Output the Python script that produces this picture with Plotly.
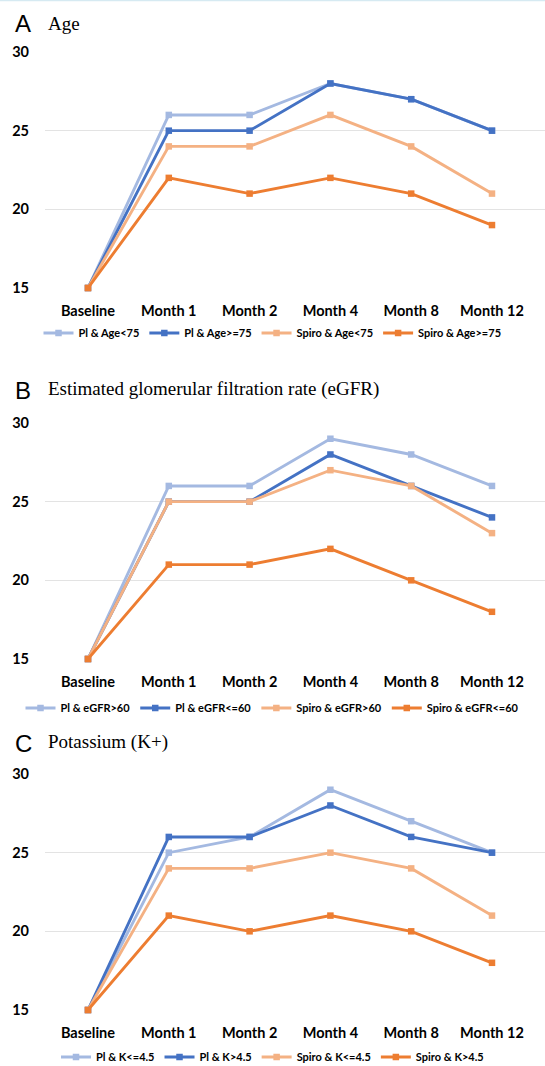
import plotly.graph_objects as go

categories = ["Baseline", "Month 1", "Month 2", "Month 4", "Month 8", "Month 12"]

# Panel A: Age
a_names = ["Pl & Age<75", "Pl & Age>=75", "Spiro & Age<75", "Spiro & Age>=75"]
a_pl_lt75 = [15, 26, 26, 28, 27, 25]
a_pl_ge75 = [15, 25, 25, 28, 27, 25]
a_sp_lt75 = [15, 24, 24, 26, 24, 21]
a_sp_ge75 = [15, 22, 21, 22, 21, 19]

# Panel B: eGFR
b_names = ["Pl & eGFR>60", "Pl & eGFR<=60", "Spiro & eGFR>60", "Spiro & eGFR<=60"]
b_pl_gt60 = [15, 26, 26, 29, 28, 26]
b_pl_le60 = [15, 25, 25, 28, 26, 24]
b_sp_gt60 = [15, 25, 25, 27, 26, 23]
b_sp_le60 = [15, 21, 21, 22, 20, 18]

# Panel C: Potassium
c_names = ["Pl & K<=4.5", "Pl & K>4.5", "Spiro & K<=4.5", "Spiro & K>4.5"]
c_pl_le45 = [15, 25, 26, 29, 27, 25]
c_pl_gt45 = [15, 26, 26, 28, 26, 25]
c_sp_le45 = [15, 24, 24, 25, 24, 21]
c_sp_gt45 = [15, 21, 20, 21, 20, 18]

panel_letters = ["A", "B", "C"]
panel_titles = ["Age", "Estimated glomerular filtration rate (eGFR)", "Potassium (K+)"]
y_ticks = [15, 20, 25, 30]

colors = ["#A4B9E1", "#4472C4", "#F4B183", "#ED7D31"]

W, H = 545, 1066
panels = [
    (a_names, [a_pl_lt75, a_pl_ge75, a_sp_lt75, a_sp_ge75]),
    (b_names, [b_pl_gt60, b_pl_le60, b_sp_gt60, b_sp_le60]),
    (c_names, [c_pl_le45, c_pl_gt45, c_sp_le45, c_sp_gt45]),
]
# pixel geometry (top of y=30, bottom y=15)
ypix = [(52, 288), (423, 659), (774, 1010)]
legend_pix = [333, 708, 1057]
title_pix = [24, 390, 743]

def py(p):
    return 1 - p / H

fig = go.Figure()
x_idx = list(range(len(categories)))
for i, (names, series) in enumerate(panels):
    suffix = "" if i == 0 else str(i + 1)
    for name, vals, col in zip(names, series, colors):
        fig.add_trace(go.Scatter(
            x=x_idx, y=vals, name=name, mode="lines+markers",
            line=dict(color=col, width=2.9),
            marker=dict(symbol="square", size=6.5, color=col),
            cliponaxis=False,
            xaxis="x" + suffix, yaxis="y" + suffix,
            legend="legend" + suffix,
        ))

layout = dict(
    width=W, height=H,
    margin=dict(l=0, r=0, t=0, b=0, pad=0, autoexpand=False),
    paper_bgcolor="white", plot_bgcolor="white",
    showlegend=True, hovermode=False,
)
x_dom = [45 / W, 1.0]
for i in range(3):
    suffix = "" if i == 0 else str(i + 1)
    top, bot = ypix[i]
    layout["xaxis" + suffix] = dict(
        domain=x_dom, range=[-0.532, 5.656], anchor="y" + suffix,
        tickvals=x_idx, ticktext=categories,
        showgrid=False, zeroline=False, showline=False,
        ticks="", ticklabelstandoff=12, automargin=False,
        tickfont=dict(family="Lato", size=14.5, color="#000000", weight="bold"),
        fixedrange=True,
    )
    layout["yaxis" + suffix] = dict(
        domain=[py(bot), py(top)], range=[15, 30], anchor="x" + suffix,
        tickvals=y_ticks, showgrid=True, gridcolor="#E3E3E3", gridwidth=1,
        zeroline=False, showline=False, ticks="", ticklabelstandoff=15,
        automargin=False,
        tickfont=dict(family="Lato", size=14.5, color="#000000", weight="bold"),
        fixedrange=True,
    )
    layout["legend" + suffix] = dict(
        orientation="h", x=0.5, xanchor="center",
        y=py(legend_pix[i]), yanchor="middle",
        font=dict(family="Lato", size=11, color="#000000", weight="bold"),
        itemwidth=30, tracegroupgap=0, bgcolor="rgba(0,0,0,0)",
    )

annotations = []
for i in range(3):
    annotations.append(dict(
        text=panel_letters[i], x=13 / W, y=py(title_pix[i]), xref="paper", yref="paper",
        xanchor="left", yanchor="middle", showarrow=False,
        font=dict(family="Liberation Sans", size=24, color="#000000"),
    ))
    annotations.append(dict(
        text=panel_titles[i], x=46 / W, y=py(title_pix[i] - 1), xref="paper", yref="paper",
        xanchor="left", yanchor="middle", showarrow=False,
        font=dict(family="Liberation Serif", size=19, color="#000000"),
    ))
layout["annotations"] = annotations
layout["shapes"] = [dict(type="line", xref="paper", yref="paper", x0=0, x1=1,
                         y0=py(0.5), y1=py(0.5), line=dict(color="#D6EAF2", width=1.5))]

fig.update_layout(**layout)
post = (
    "document.documentElement.style.margin='0';"
    "document.documentElement.style.padding='0';"
    "document.documentElement.style.overflow='hidden';"
    "document.body.style.margin='0';document.body.style.padding='0';"
    "document.body.style.overflow='hidden';"
    "var d=document.getElementById('{plot_id}');"
    "d.style.position='fixed';d.style.top='0px';d.style.left='0px';"
)
fig.write_html("out.html", config={"displayModeBar": False}, post_script=post)
